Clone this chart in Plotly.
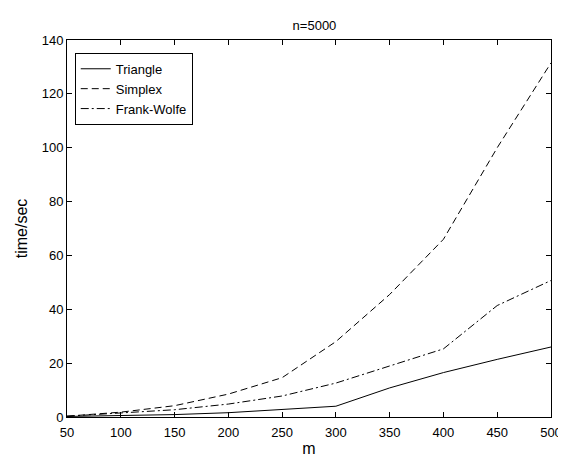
import plotly.graph_objects as go

m = [50, 100, 150, 200, 250, 300, 350, 400, 450, 500]
triangle = [0.2, 0.6, 0.9, 1.6, 2.7, 4.0, 10.8, 16.5, 21.4, 26.0]
simplex = [0.3, 1.8, 4.2, 8.5, 14.6, 28.0, 45.5, 66.0, 100.0, 131.5]
frank_wolfe = [0.3, 1.4, 2.7, 4.8, 7.8, 12.6, 18.9, 25.3, 41.4, 50.7]

x_ticks = [50, 100, 150, 200, 250, 300, 350, 400, 450, 500]
y_ticks = [0, 20, 40, 60, 80, 100, 120, 140]

FONT = "Liberation Sans, Arial, sans-serif"

fig = go.Figure()
fig.add_trace(go.Scatter(x=m, y=triangle, mode="lines", name="Triangle",
                         line=dict(color="black", width=1, dash="solid")))
fig.add_trace(go.Scatter(x=m, y=simplex, mode="lines", name="Simplex",
                         line=dict(color="black", width=1, dash="7px,4px")))
fig.add_trace(go.Scatter(x=m, y=frank_wolfe, mode="lines", name="Frank-Wolfe",
                         line=dict(color="black", width=1, dash="8px,3px,2px,3px")))

font = dict(family=FONT, size=13, color="black")

fig.update_layout(
    width=566, height=459,
    margin=dict(l=59, r=12, t=32, b=38),
    paper_bgcolor="white", plot_bgcolor="white",
    font=font,
    title=dict(text="n=5000", x=0.5415, xanchor="center", y=0.963, yanchor="middle",
               font=dict(family=FONT, size=13, color="black")),
    showlegend=True,
    legend=dict(x=0.016, y=0.966, xanchor="left", yanchor="top",
                bgcolor="white", bordercolor="black", borderwidth=1,
                font=dict(family=FONT, size=13, color="black"),
                tracegroupgap=0),
    xaxis=dict(range=[50, 500], tickvals=x_ticks, ticktext=[str(v) for v in x_ticks],
               showgrid=False, zeroline=False, showline=True, linecolor="black", linewidth=1,
               mirror="ticks", ticks="inside", ticklen=5, tickcolor="black",
               ticklabelstandoff=3,
               title=dict(text="m", standoff=4)),
    yaxis=dict(range=[0, 140], tickvals=y_ticks, ticktext=[str(v) for v in y_ticks],
               showgrid=False, zeroline=False, showline=True, linecolor="black", linewidth=1,
               mirror="ticks", ticks="inside", ticklen=5, tickcolor="black",
               title=dict(text="time/sec", standoff=10)),
)

fig.write_html("out.html")
